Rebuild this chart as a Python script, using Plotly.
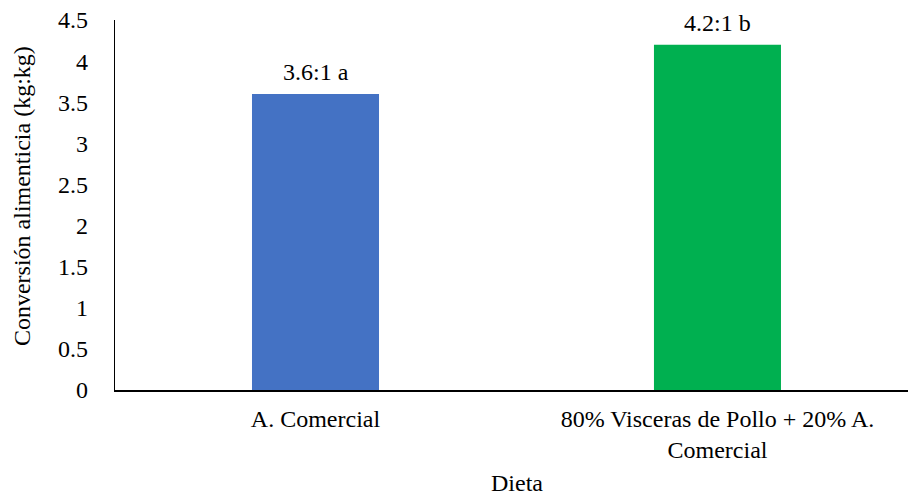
import plotly.graph_objects as go

# Diet groups and feed conversion ratio (kg feed : kg gain)
dietas = ["A. Comercial", "80% Visceras de Pollo + 20% A.<br>Comercial"]
conversion = [3.6, 4.2]
letras = ["a", "b"]
colores = ["#4472C4", "#00B050"]
y_ticks = [0, 0.5, 1, 1.5, 2, 2.5, 3, 3.5, 4, 4.5]
y_tick_text = ["0", "0.5", "1", "1.5", "2", "2.5", "3", "3.5", "4", "4.5"]

FONT = "Liberation Serif"
SIZE = 24
NEGRO = "#000000"

etiquetas = [f"{v}:1 {l}" for v, l in zip(conversion, letras)]

fig = go.Figure()
fig.add_trace(go.Bar(
    x=[0, 1],
    y=conversion,
    width=0.316,
    marker=dict(color=colores, line=dict(width=0)),
    hoverinfo="skip",
))

# value labels above each bar
for i, (v, t) in enumerate(zip(conversion, etiquetas)):
    fig.add_annotation(
        x=i, y=v, text=t, showarrow=False,
        xanchor="center", yanchor="bottom", yshift=7,
        font=dict(family=FONT, size=SIZE, color=NEGRO),
    )

# axis titles
fig.add_annotation(
    text="Dieta", xref="paper", yref="paper", x=0.507, y=-0.2514,
    xanchor="center", yanchor="middle", showarrow=False,
    font=dict(family=FONT, size=SIZE, color=NEGRO),
)
fig.add_annotation(
    text="Conversión alimenticia (kg:kg)", xref="paper", yref="paper",
    x=-0.1173, y=0.524, textangle=-90,
    xanchor="center", yanchor="middle", showarrow=False,
    font=dict(family=FONT, size=SIZE, color=NEGRO),
)

fig.update_layout(
    width=908,
    height=496,
    margin=dict(l=115, r=0, t=20, b=106),
    paper_bgcolor="white",
    plot_bgcolor="white",
    showlegend=False,
    font=dict(family=FONT, size=SIZE, color=NEGRO),
)

fig.update_xaxes(
    range=[-0.4988, 1.474],
    tickmode="array",
    tickvals=[0, 1],
    ticktext=dietas,
    showgrid=False,
    zeroline=False,
    showline=True,
    linecolor=NEGRO,
    linewidth=2,
    ticks="",
    ticklabelstandoff=6,
    tickfont=dict(family=FONT, size=SIZE, color=NEGRO),
)

fig.update_yaxes(
    range=[0, 4.5],
    tickmode="array",
    tickvals=y_ticks,
    ticktext=y_tick_text,
    showgrid=False,
    zeroline=False,
    showline=True,
    linecolor=NEGRO,
    linewidth=1.3,
    ticks="",
    ticklabelstandoff=21,
    tickfont=dict(family=FONT, size=SIZE, color=NEGRO),
)

fig.write_html("out.html")
